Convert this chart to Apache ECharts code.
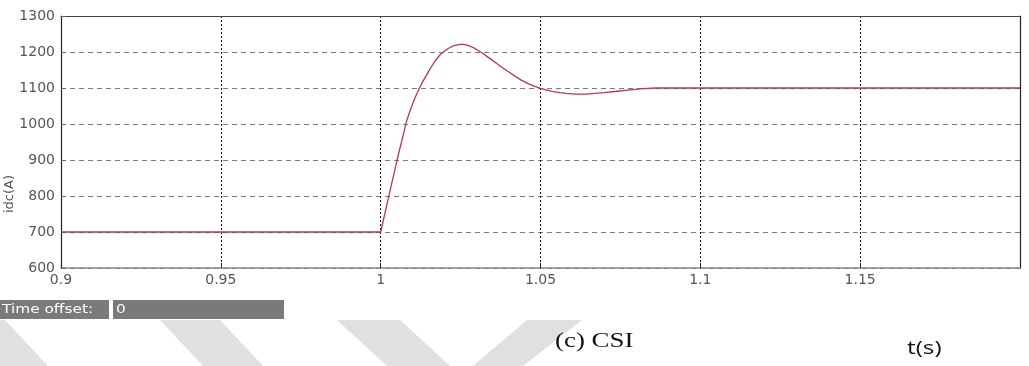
<!DOCTYPE html>
<html>
<head>
<meta charset="utf-8">
<script src="https://cdn.jsdelivr.net/npm/echarts@6/dist/echarts.min.js"></script>
<style>
  html, body { margin: 0; padding: 0; background: #fff; }
  #chart { width: 1029px; height: 366px; }
</style>
</head>
<body>
<div id="chart"></div>
<script>
// DC-link current of the CSI after the step at t = 1 s
const timeS = [0.9, 1.0, 1.002, 1.004, 1.005, 1.006, 1.007, 1.008, 1.009, 1.010, 1.011, 1.012,
               1.013, 1.014, 1.015, 1.016, 1.017, 1.018, 1.019, 1.020, 1.021, 1.022, 1.023,
               1.024, 1.025, 1.026, 1.027, 1.028, 1.029, 1.030, 1.032, 1.034, 1.036, 1.038,
               1.040, 1.042, 1.044, 1.046, 1.048, 1.050, 1.052, 1.054, 1.056, 1.058, 1.061,
               1.064, 1.067, 1.070, 1.074, 1.078, 1.082, 1.086, 1.2];
const idcA  = [700, 700, 778, 856, 895, 932, 967, 1005, 1032, 1056, 1078, 1097,
               1115, 1131, 1146, 1161, 1175, 1186, 1196, 1203, 1209, 1214, 1218,
               1220, 1221, 1221, 1219, 1216, 1212, 1207, 1196, 1183, 1170, 1157,
               1145, 1133, 1122, 1113, 1105, 1099, 1094, 1090, 1087, 1085, 1083,
               1083, 1085, 1087, 1091, 1095, 1098, 1100, 1100];

const xTicks = { min: 0.9, max: 1.2, step: 0.05 };
const yTicks = { min: 600, max: 1300, step: 100 };

const yName = 'idc(A)';
const caption = '(c) CSI';
const timeLabel = 't(s)';
const offsetLabel = 'Time offset:';
const offsetValue = '0';

const chart = echarts.init(document.getElementById('chart'), null, { renderer: 'canvas' });

const tickFont = { fontFamily: 'DejaVu Sans', fontSize: 14, color: '#555' };

const stripe = pts => ({
  type: 'polygon', z: -10, silent: true,
  shape: { points: pts },
  style: { fill: '#e0e0e0' }
});

chart.setOption({
  animation: false,
  backgroundColor: '#fff',
  grid: { left: 61, right: 9, top: 16, bottom: 98, containLabel: false },
  xAxis: [{
    type: 'value', min: xTicks.min, max: xTicks.max, interval: xTicks.step,
    axisLine: { show: true, lineStyle: { color: '#8a8a8a', width: 1.5 } },
    axisTick: { show: true, inside: true, length: 5, lineStyle: { color: '#222' } },
    axisLabel: Object.assign({ margin: 5, showMaxLabel: false,
      formatter: v => String(+v.toFixed(2)) }, tickFont),
    splitLine: { show: true, lineStyle: { color: '#111', type: [2, 2], width: 1 } }
  }, {
    type: 'value', position: 'top', min: xTicks.min, max: xTicks.max,
    axisLine: { show: true, lineStyle: { color: '#444', width: 1.2 } },
    axisTick: { show: false }, axisLabel: { show: false }, splitLine: { show: false }
  }],
  yAxis: [{
    type: 'value', min: yTicks.min, max: yTicks.max, interval: yTicks.step,
    axisLine: { show: true, lineStyle: { color: '#222', width: 1.2 } },
    axisTick: { show: true, inside: true, length: 5, lineStyle: { color: '#666' } },
    axisLabel: Object.assign({ margin: 6, formatter: v => String(v) }, tickFont),
    splitLine: { show: true, lineStyle: { color: '#7a7a7a', type: [5, 4], width: 1 } }
  }, {
    type: 'value', position: 'right', min: yTicks.min, max: yTicks.max,
    axisLine: { show: true, lineStyle: { color: '#222', width: 1.2 } },
    axisTick: { show: false }, axisLabel: { show: false }, splitLine: { show: false }
  }],
  series: [{
    type: 'line',
    xAxisIndex: 0, yAxisIndex: 0,
    data: timeS.map((t, i) => [t, idcA[i]]),
    showSymbol: false,
    smooth: false,
    lineStyle: { color: '#b33a4a', width: 1.3 },
    z: 5
  }],
  graphic: [
    stripe([[-60, 320], [5, 320], [48, 366], [-17, 366]]),
    stripe([[160, 320], [220, 320], [263, 366], [203, 366]]),
    stripe([[337, 320], [400, 320], [450, 366], [387, 366]]),
    stripe([[527, 320], [582, 320], [523, 366], [473, 366]]),
    {
      type: 'text', rotation: Math.PI / 2, z: 10,
      x: 3, y: 213,
      style: { text: yName, font: '13px "DejaVu Sans"', fill: '#555' }
    },
    { type: 'rect', shape: { x: 0, y: 300, width: 109, height: 19 }, style: { fill: '#7a7a7a' } },
    { type: 'rect', shape: { x: 113, y: 300, width: 171, height: 19 }, style: { fill: '#7a7a7a' } },
    {
      type: 'text', x: 2, y: 310, scaleX: 1.28,
      style: { text: offsetLabel, font: '12px "DejaVu Sans"', fill: '#fff', verticalAlign: 'middle' }
    },
    {
      type: 'text', x: 116, y: 310, scaleX: 1.28,
      style: { text: offsetValue, font: '12px "DejaVu Sans"', fill: '#fff', verticalAlign: 'middle' }
    },
    {
      type: 'text', x: 555, y: 341, scaleX: 1.28,
      style: { text: caption, font: '21px "Liberation Serif"', fill: '#111', verticalAlign: 'middle' }
    },
    {
      type: 'text', x: 907, y: 349, scaleX: 1.28,
      style: { text: timeLabel, font: '19px "Open Sans"', fill: '#111', verticalAlign: 'middle' }
    }
  ]
});
</script>
</body>
</html>
